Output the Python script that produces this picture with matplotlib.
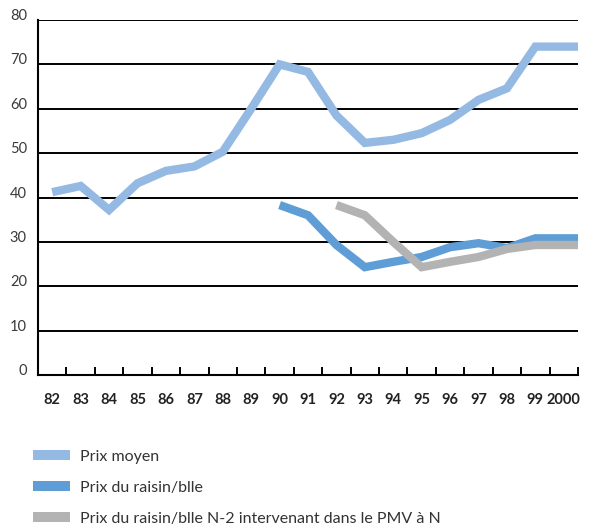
#!/usr/bin/env python3
"""Prix moyen vs prix du raisin/blle, 1982-2000."""

import matplotlib
matplotlib.use("Agg")
import matplotlib.pyplot as plt
from matplotlib.patches import Patch
import numpy as np

plt.rcParams["font.family"] = ["Lato", "DejaVu Sans"]

# ---------------------------------------------------------------------------
# Data
# ---------------------------------------------------------------------------
years = ["82", "83", "84", "85", "86", "87", "88", "89", "90", "91",
         "92", "93", "94", "95", "96", "97", "98", "99", "2000"]

prix_moyen = [41.2, 42.6, 37.2, 43.2, 46.0, 47.0, 50.3, 60.0, 70.0, 68.3,
              58.5, 52.3, 53.0, 54.5, 57.5, 62.0, 64.6, 74.0, 74.0]

# starts in 1990
prix_raisin = [None] * 8 + [38.3, 36.0, 29.3, 24.3, 25.5, 26.6, 28.8,
                            29.7, 28.6, 30.8, 30.8]

# N-2 price, starts in 1992
prix_raisin_n2 = [None] * 10 + [38.3, 36.0, 30.0, 24.3, 25.5, 26.6,
                                28.4, 29.3, 29.3]

labels = [
    "Prix moyen",
    "Prix du raisin/blle",
    "Prix du raisin/blle N-2 intervenant dans le PMV à N",
]
colors = ["#94b9e3", "#5e9dd5", "#b3b3b3"]

# ---------------------------------------------------------------------------
# Figure
# ---------------------------------------------------------------------------
fig = plt.figure(figsize=(6.05, 5.28), dpi=100)
ax = fig.add_axes([38 / 605, 1 - 375 / 528, 540 / 605, 355 / 528])

x = np.arange(len(years))
ax.set_xlim(-0.5, len(years) - 0.5)
ax.set_ylim(0, 80)
x_right = ax.get_xlim()[1]

for series, color in zip([prix_moyen, prix_raisin, prix_raisin_n2], colors):
    vals = np.array([np.nan if v is None else v for v in series], dtype=float)
    # carry the last value flat to the right edge of the axis
    xs = np.append(x, x_right)
    ys = np.append(vals, vals[-1])
    ax.plot(xs, ys, color=color, linewidth=6.0, solid_capstyle="butt",
            solid_joinstyle="miter", zorder=3, clip_on=False)

# horizontal rules
for v in range(10, 90, 10):
    ax.axhline(v, color="black", linewidth=1.4, zorder=1)

for side in ["top", "right"]:
    ax.spines[side].set_visible(False)
ax.spines["left"].set_linewidth(1.5)
ax.spines["bottom"].set_linewidth(1.5)

# y labels sit on their rule
ax.set_yticks(range(0, 90, 10))
ax.set_yticklabels([str(v) for v in range(0, 90, 10)], fontsize=10.5,
                   color="#3a3a3a", va="baseline")
ax.tick_params(axis="y", length=0, pad=8)

# year labels between category boundaries
ax.set_xticks(x)
ax.set_xticklabels(years, fontsize=10.5, fontweight="bold", color="#222222")
ax.tick_params(axis="x", which="major", length=0, pad=13)
ax.set_xticks(np.arange(-0.5, len(years), 1.0), minor=True)
ax.tick_params(axis="x", which="minor", direction="in", length=6,
               width=1.4, color="black")

handles = [Patch(facecolor=c, edgecolor="none") for c in colors]
fig.legend(handles, labels, loc="upper left",
           bbox_to_anchor=(33 / 605, 1 - 450 / 528), frameon=False,
           borderpad=0, borderaxespad=0,
           fontsize=11.5, handlelength=2.3, handleheight=0.56,
           handletextpad=0.62, labelspacing=1.05, labelcolor="#333333")

plt.savefig("out.png", dpi=100)
plt.close()
